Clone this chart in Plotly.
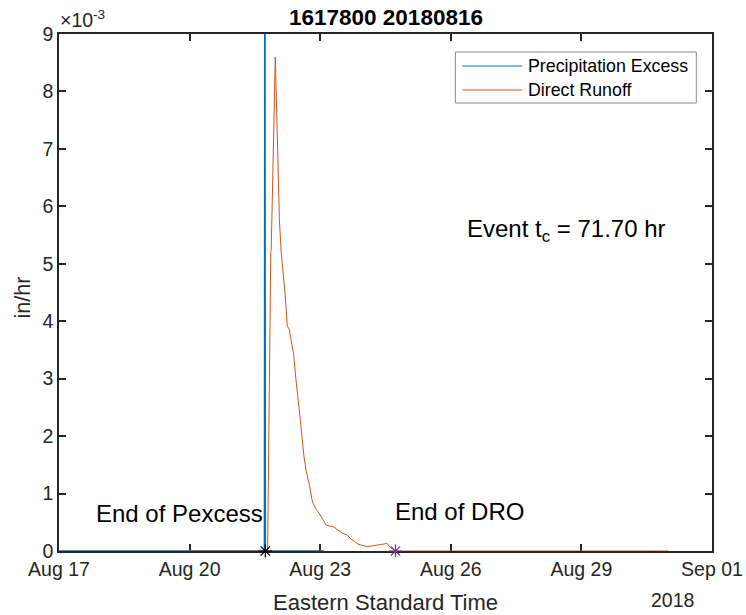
import plotly.graph_objects as go

# ---------------- data ----------------
pex_times = ["2018-08-17 00:00", "2018-08-21 17:15", "2018-08-21 17:30",
             "2018-08-21 17:45", "2018-08-23 02:00"]
pex_vals = [0.0, 0.0, 0.0125, 0.0, 0.0]

dro_times = ["2018-08-20 00:00", "2018-08-21 19:00", "2018-08-21 20:45", "2018-08-21 21:00",
             "2018-08-21 23:15", "2018-08-22 01:30", "2018-08-22 02:30", "2018-08-22 04:45",
             "2018-08-22 05:50", "2018-08-22 07:05", "2018-08-22 07:40", "2018-08-22 09:15",
             "2018-08-22 10:35", "2018-08-22 11:45", "2018-08-22 13:00", "2018-08-22 15:05",
             "2018-08-22 16:10", "2018-08-22 18:05", "2018-08-22 19:45", "2018-08-22 21:50",
             "2018-08-22 23:35", "2018-08-23 03:20", "2018-08-23 07:25", "2018-08-23 12:05",
             "2018-08-23 14:50", "2018-08-23 16:35", "2018-08-23 20:50", "2018-08-24 01:50",
             "2018-08-24 12:55", "2018-08-24 14:40", "2018-08-24 17:30", "2018-08-31 00:00"]
dro_vals = [0.0, 0.0, 0.00520, 0.00525,
            0.00860, 0.00577, 0.00520, 0.00444,
            0.00392, 0.00385, 0.00372, 0.00345,
            0.00300, 0.00269, 0.00229, 0.00164,
            0.00141, 0.00114, 0.00085, 0.00072,
            0.00065, 0.00045, 0.00042, 0.00031,
            0.00028, 0.00022, 0.00012, 0.000075,
            0.00013, 0.00006, 0.0, 0.0]

end_pexcess_time = "2018-08-21 17:45"
end_dro_time = "2018-08-24 17:30"
event_tc_hr = 71.70
title_text = "1617800 20180816"

x_tick_vals = ["2018-08-17", "2018-08-20", "2018-08-23", "2018-08-26", "2018-08-29", "2018-09-01"]
x_tick_text = ["Aug 17", "Aug 20", "Aug 23", "Aug 26", "Aug 29", "Sep 01"]
y_tick_vals = [i * 0.001 for i in range(10)]
y_tick_text = [str(i) for i in range(10)]

# ---------------- styling ----------------
BLUE = "#0072BD"
ORANGE = "#D95319"
PURPLE = "#7E2F8E"
AX = "#262626"
FONT = "Liberation Sans, Arial, sans-serif"

W, H = 746, 615
# plot-area edges in page pixels
L, R, T, B = 58.5, 711.7, 34, 551


def px(x):
    return (x - L) / (R - L)


def py(y):
    return (B - y) / (B - T)


fig = go.Figure()
fig.add_trace(go.Scatter(x=pex_times, y=pex_vals, mode="lines",
                         line=dict(color=BLUE, width=1.5), showlegend=False))
fig.add_trace(go.Scatter(x=dro_times, y=dro_vals, mode="lines",
                         line=dict(color=ORANGE, width=1), showlegend=False))
fig.add_trace(go.Scatter(x=[end_pexcess_time], y=[0], mode="markers", cliponaxis=False,
                         marker=dict(symbol="asterisk-open", size=11, color="black",
                                     line=dict(color="black", width=1.2)),
                         showlegend=False))
fig.add_trace(go.Scatter(x=[end_dro_time], y=[0], mode="markers", cliponaxis=False,
                         marker=dict(symbol="asterisk-open", size=11, color=PURPLE,
                                     line=dict(color=PURPLE, width=1.2)),
                         showlegend=False))

axis_common = dict(showline=True, linecolor=AX, linewidth=1.5, mirror="ticks",
                   ticks="inside", ticklen=7, tickwidth=1.5, tickcolor=AX,
                   showgrid=False, zeroline=False, layer="below traces",
                   automargin=False,
                   tickfont=dict(family=FONT, size=19.5, color=AX))

fig.update_xaxes(type="date", range=["2018-08-17", "2018-09-01"],
                 tickvals=x_tick_vals, ticktext=x_tick_text, **axis_common)
fig.update_yaxes(range=[0, 0.009], tickvals=y_tick_vals, ticktext=y_tick_text,
                 **axis_common)

annotations = [
    dict(text="<b>%s</b>" % title_text, x=0.5, y=py(17), xref="paper", yref="paper",
         showarrow=False, font=dict(family=FONT, size=22.5, color="black"),
         xanchor="center", yanchor="middle"),
    dict(text="×10<sup>-3</sup>", x=px(57), y=py(19), xref="paper", yref="paper",
         showarrow=False, font=dict(family=FONT, size=19.5, color=AX),
         xanchor="left", yanchor="middle"),
    dict(text="Eastern Standard Time", x=0.5, y=py(602), xref="paper", yref="paper",
         showarrow=False, font=dict(family=FONT, size=22, color=AX),
         xanchor="center", yanchor="middle"),
    dict(text="2018", x=px(672), y=py(600), xref="paper", yref="paper",
         showarrow=False, font=dict(family=FONT, size=19.5, color=AX),
         xanchor="center", yanchor="middle"),
    dict(text="in/hr", x=px(22), y=py(298), xref="paper", yref="paper", textangle=-90,
         showarrow=False, font=dict(family=FONT, size=21.5, color=AX),
         xanchor="center", yanchor="middle"),
    dict(text="End of Pexcess", x=end_pexcess_time, y=0.00066, xref="x", yref="y",
         showarrow=False, font=dict(family=FONT, size=24, color="black"),
         xanchor="right", yanchor="middle", xshift=0),
    dict(text="End of DRO", x=end_dro_time, y=0.00068, xref="x", yref="y",
         showarrow=False, font=dict(family=FONT, size=24, color="black"),
         xanchor="left", yanchor="middle", xshift=-2),
    dict(text="Event t<sub>c</sub> = %.2f hr" % event_tc_hr, x=px(465), y=py(231),
         xref="paper", yref="paper", showarrow=False,
         font=dict(family=FONT, size=24, color="black"),
         xanchor="left", yanchor="middle"),
    # legend texts
    dict(text="Precipitation Excess", x=px(526), y=py(66), xref="paper", yref="paper",
         showarrow=False, font=dict(family=FONT, size=17.8, color="black"),
         xanchor="left", yanchor="middle"),
    dict(text="Direct Runoff", x=px(526), y=py(90), xref="paper", yref="paper",
         showarrow=False, font=dict(family=FONT, size=17.8, color="black"),
         xanchor="left", yanchor="middle"),
]

shapes = [
    dict(type="rect", xref="paper", yref="paper", x0=px(455), x1=px(696),
         y0=py(103), y1=py(52), line=dict(color="#8a8a8a", width=1),
         fillcolor="white", layer="above"),
    dict(type="line", xref="paper", yref="paper", x0=px(462), x1=px(522),
         y0=py(66), y1=py(66), line=dict(color=BLUE, width=1)),
    dict(type="line", xref="paper", yref="paper", x0=px(462), x1=px(522),
         y0=py(90), y1=py(90), line=dict(color=ORANGE, width=1)),
]

fig.update_layout(width=W, height=H, autosize=False,
                  margin=dict(l=L, r=(W - R), t=T, b=(H - B), pad=0),
                  plot_bgcolor="white", paper_bgcolor="white",
                  font=dict(family=FONT, color=AX),
                  annotations=annotations, shapes=shapes, showlegend=False)

fig.write_html("out.html",
               config={"displayModeBar": False},
               post_script="document.body.style.margin='0';"
                           "document.body.style.overflow='hidden';")
